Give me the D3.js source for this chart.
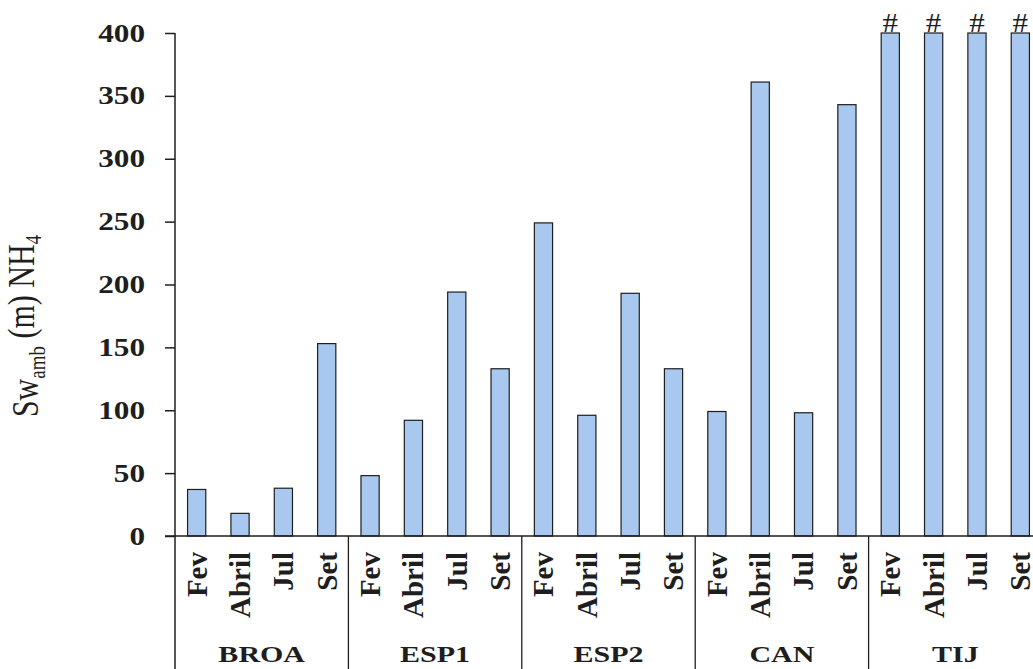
<!DOCTYPE html>
<html>
<head>
<meta charset="utf-8">
<script src="https://cdn.jsdelivr.net/npm/d3@7"></script>
<style>
    body { margin: 0; background: #fff; }
    svg { display: block; }
    text { font-family: "Liberation Serif", "Times New Roman", Times, serif; }
</style>
</head>
<body>
<div id="svg_container"></div>
<script>
// sites and sampling months
let groups = ["BROA", "ESP1", "ESP2", "CAN", "TIJ"];
let months = ["Fev", "Abril", "Jul", "Set"];

// Sw_amb (m) NH4, one array per site in month order
let BROA = [37, 18, 38, 153];
let ESP1 = [48, 92, 194, 133];
let ESP2 = [249, 96, 193, 133];
let CAN = [99, 361, 98, 343];
let TIJ = [400, 400, 400, 400];

// bars cut at the top of the axis (marked with #)
let truncated = ["TIJ"];

let yTicks = [0, 50, 100, 150, 200, 250, 300, 350, 400];

function init() {
    let width = 1033, height = 669;
    let ink = "#1e1e1e";
    let serif = "Liberation Serif";
    let stretch = 1.25;

    let svg = d3.select("#svg_container")
        .append("svg")
        .attr("width", width)
        .attr("height", height);

    let series = {BROA: BROA, ESP1: ESP1, ESP2: ESP2, CAN: CAN, TIJ: TIJ};
    let rows = [];
    groups.forEach(function (g) {
        months.forEach(function (m, j) {
            rows.push({group: g, month: m, value: series[g][j]});
        });
    });

    let plotLeft = 175, plotRight = 1042, baseY = 536, topY = 33;

    let x0 = d3.scaleBand()
        .domain(groups)
        .range([plotLeft, plotRight]);

    let x1 = d3.scaleBand()
        .domain(months)
        .range([0, x0.bandwidth()])
        .paddingInner(0.58)
        .paddingOuter(0.29);

    let y = d3.scaleLinear()
        .domain([0, 400])
        .range([baseY, topY]);

    // bars
    svg.append("g")
        .selectAll("rect")
        .data(rows)
        .enter()
        .append("rect")
        .attr("x", d => x0(d.group) + x1(d.month))
        .attr("y", d => y(d.value))
        .attr("width", x1.bandwidth())
        .attr("height", d => y(0) - y(d.value))
        .attr("fill", "#a9c8ef")
        .attr("stroke", ink)
        .attr("stroke-width", 1.2);

    // # over truncated bars
    svg.append("g")
        .selectAll("text")
        .data(rows.filter(d => truncated.includes(d.group)))
        .enter()
        .append("text")
        .attr("transform", d => "translate(" + (x0(d.group) + x1(d.month) + x1.bandwidth() / 2) + "," + (y(d.value) - 1) + ") scale(1.15,1)")
        .attr("text-anchor", "middle")
        .attr("font-family", serif)
        .attr("font-size", 27)
        .attr("fill", ink)
        .text("#");

    // y axis
    let yAxis = svg.append("g")
        .attr("transform", "translate(" + plotLeft + ",0)")
        .call(d3.axisLeft(y).tickValues(yTicks).tickSize(10).tickSizeOuter(0));

    yAxis.select(".domain").remove();
    yAxis.selectAll("line").attr("stroke", ink).attr("stroke-width", 1.5);
    yAxis.selectAll("text")
        .attr("x", -30 / stretch)
        .attr("transform", "scale(" + stretch + ",1)")
        .attr("font-size", 25)
        .attr("font-weight", "bold")
        .attr("fill", ink)
        .attr("font-family", serif);

    // frame lines: y axis down to the bottom, baseline, group separators
    svg.append("line")
        .attr("x1", plotLeft).attr("x2", plotLeft)
        .attr("y1", topY).attr("y2", height)
        .attr("stroke", ink).attr("stroke-width", 1.5);

    svg.append("line")
        .attr("x1", plotLeft - 10).attr("x2", width)
        .attr("y1", baseY).attr("y2", baseY)
        .attr("stroke", ink).attr("stroke-width", 1.5);

    svg.append("g")
        .selectAll("line")
        .data(groups.slice(1))
        .enter()
        .append("line")
        .attr("x1", d => x0(d)).attr("x2", d => x0(d))
        .attr("y1", baseY).attr("y2", height)
        .attr("stroke", ink)
        .attr("stroke-width", 1.3);

    // month labels, rotated
    svg.append("g")
        .selectAll("text")
        .data(rows)
        .enter()
        .append("text")
        .attr("transform", d => "translate(" + (x0(d.group) + x1(d.month) + x1.bandwidth() / 2) + "," + (baseY + 16) + ") rotate(-90)")
        .attr("text-anchor", "end")
        .attr("dy", "0.34em")
        .attr("font-family", serif)
        .attr("font-size", 29)
        .attr("font-weight", "bold")
        .attr("fill", ink)
        .text(d => d.month);

    // site labels
    svg.append("g")
        .selectAll("text")
        .data(groups)
        .enter()
        .append("text")
        .attr("transform", d => "translate(" + (x0(d) + x0.bandwidth() / 2) + ",662) scale(" + stretch + ",1)")
        .attr("text-anchor", "middle")
        .attr("font-family", serif)
        .attr("font-size", 24)
        .attr("font-weight", "bold")
        .attr("fill", ink)
        .text(d => d);

    // y axis title
    let title = svg.append("text")
        .attr("transform", "translate(38,326) scale(" + stretch + ",1) rotate(-90)")
        .attr("text-anchor", "middle")
        .attr("font-family", serif)
        .attr("font-size", 30)
        .attr("fill", ink);

    title.append("tspan").text("Sw");
    title.append("tspan").attr("font-size", 19).attr("dy", "0.3em").text("amb");
    title.append("tspan").attr("dy", "-0.3em").text(" (m) NH");
    title.append("tspan").attr("font-size", 19).attr("dy", "0.3em").text("4");
}

init();
</script>
</body>
</html>
